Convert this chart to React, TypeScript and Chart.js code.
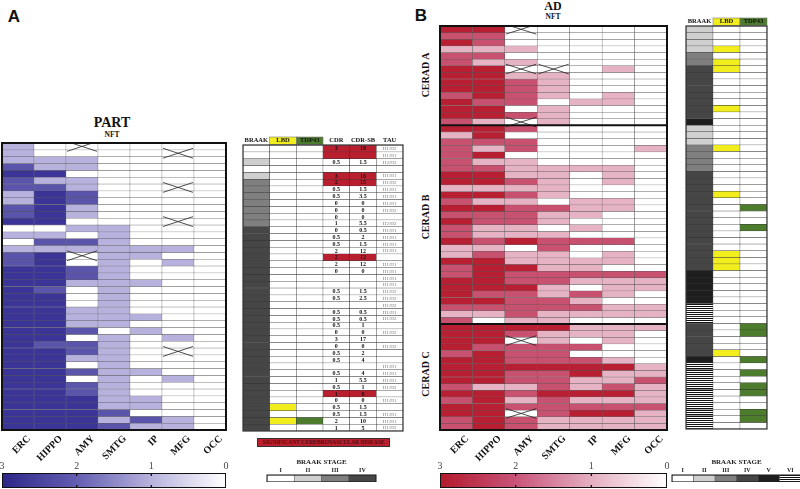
import React, { useEffect, useRef } from 'react';
import { Chart, registerables } from 'chart.js';

Chart.register(...registerables);

const SERIF = "'Liberation Serif', 'Times New Roman', serif";
const SANS = "'Liberation Sans', Arial, sans-serif";

// ---------------- DATA ----------------
const regions = ['ERC', 'HIPPO', 'AMY', 'SMTG', 'IP', 'MFG', 'OCC'];

// Panel A – PART, NFT score per case (rows top -> bottom); null = not assessed (X)
const partERC = [1,1,1,2,3,2,2,1,1,2, 2,3,0,1,0,1,2,2,3,3, 3,3,3,3,3,3,3,3,3,3, 3,3,3,3,3,3,3,3,3,3,3,3];
const partHIPPO = [0,0,1,1,3,1,2,3,3,3, 3,3,0,1,2,1,3,3,3,3, 3,2,3,3,3,3,3,3,3,2, 3,3,3,3,3,3,3,3,3,3,3,3];
const partAMY = [null,0,1,1,0,1,1,2,2,1, 1,0,1,0,2,1,null,0,2,2, 1,0,0,0,1,1,1,2,0,2, 2,1,0,2,0,2,2,3,3,3,3,3];
const partSMTG = [0,0,0,0,0,0,0,0,0,0, 0,0,1,1,1,1,1,1,1,1, 1,1,1,1,1,1,1,0,1,1, 1,1,1,1,1,1,1,1,1,2,1,2];
const partIP = [0,0,0,0,0,0,0,0,0,0, 0,0,0,0,0,1,1,0,0,0, 1,0,0,0,0,1,0,1,0,0, 0,0,0,1,0,0,0,1,1,0,2,1];
const partMFG = [0,null,0,0,0,0,null,0,0,0, 0,null,0,0,0,1,0,1,0,0, 0,0,0,0,0,0,0,0,1,0, null,0,0,0,1,0,0,0,0,0,1,1];
const partOCC = [0,0,0,0,0,0,0,0,0,0, 0,0,0,0,0,0,0,0,0,0, 0,0,0,0,0,0,0,0,0,0, 0,0,0,0,0,0,0,0,0,0,0,0];

// Panel A side table
const tableHeadA = ['BRAAK', 'LBD', 'TDP43', 'CDR', 'CDR-SB', 'TAU'];
const braakA = [1,1,2,1,2,3,3,3,3,3, 3,3,4,4,4,4,4,4,4,4, 4,4,4,4,4,4,4,4,4,4, 4,4,4,4,4,4,4,4,4,4,4,4];
const lbdRowsA = [38, 40];
const tdpRowsA = [40];
const cvdRowsA = [0, 1, 4, 5, 16, 36];
const cdrA = ['3','','0.5','','3','2','0.5','0.5','0','0','0','1','0','0.5','0.5','2','2','2','0','','','0.5','0.5','','0.5','0.5','0.5','0','3','0','0.5','0.5','','0.5','1','0.5','1','0','0.5','0.5','2','1'];
const cdrSbA = ['18','','1.5','','16','15','1.5','3.5','0','0','0','5.5','0.5','2','1.5','12','12','12','0','','','1.5','2.5','','0.5','0.5','1','0','17','0','2','4','','4','5.5','1','8','0','1.5','1.5','10','5'];
const tauA = ['H1/H2','H1/H1','H2/H2','','H1/H1','H1/H2','H1/H1','H1/H1','H1/H1','H1/H2','','H2/H2','H1/H1','H1/H1','H1/H1','H1/H1','','H1/H1','H1/H1','H1/H1','H1/H1','H1/H2','H1/H2','H1/H2','H1/H1','H1/H2','','H1/H2','','H1/H2','','','H1/H1','H1/H1','H1/H1','H1/H2','','H1/H1','','H1/H1','H1/H1','H1/H2'];

// Panel B – AD, NFT score per case; CERAD A (15 rows), B (30), C (16)
const ceradGroups = ['CERAD A', 'CERAD B', 'CERAD C'];
const ceradSizes = [15, 30, 16];
const adERC = [3,2,3,1,2,2,3,3,3,3,2,3,3,3,2,
  3,1,2,2,2,2,2,3,3,1,3,2,3,2,3,2,2,3,1,1,3,2,2,3,3,3,3,2,1,2,
  3,3,3,3,2,3,3,3,3,2,3,2,3,3,2,2];
const adHIPPO = [3,2,2,1,2,1,3,3,3,3,3,2,3,3,1,
  3,3,2,1,3,1,2,3,3,1,3,1,3,2,2,1,1,2,1,2,3,3,3,3,3,2,3,2,1,0,
  3,3,3,2,3,3,3,3,3,1,3,3,3,3,3,3];
const adAMY = [null,0,0,1,0,1,null,1,2,2,2,2,0,2,null,
  2,0,2,2,0,1,1,1,2,1,2,1,2,2,2,1,1,3,0,1,1,3,2,2,3,2,2,2,2,1,
  3,2,null,2,2,2,3,2,2,1,2,1,2,null,2,2];
const adSMTG = [0,0,0,0,0,0,null,1,1,1,1,0,1,1,1,
  0,0,0,0,0,0,1,1,1,1,1,0,2,1,1,0,1,2,2,1,1,1,2,2,1,1,2,2,1,1,
  3,1,1,2,2,2,3,2,2,2,3,2,2,2,1,1];
const adIP = [0,0,0,0,0,0,0,0,0,0,0,1,0,0,0,
  0,0,0,0,0,0,1,0,0,0,0,1,1,1,0,1,0,2,0,0,1,1,2,1,0,2,1,2,1,0,
  1,1,0,2,0,2,3,3,1,1,3,1,2,3,1,1];
const adMFG = [0,0,0,0,0,0,1,0,0,0,1,1,0,0,0,
  0,0,0,0,0,0,1,1,1,0,0,1,1,0,0,0,0,2,0,1,1,0,2,1,1,1,0,1,1,0,
  1,1,1,0,0,1,3,1,1,2,3,1,2,3,1,1];
const adOCC = [0,0,0,0,0,0,0,0,0,0,0,0,0,0,0,
  0,0,0,1,0,0,0,0,0,0,0,0,0,0,0,0,0,0,0,0,0,0,2,1,1,0,0,1,1,0,
  1,0,0,0,0,0,1,1,2,1,1,1,2,1,1,1];

// Panel B side table
const tableHeadB = ['BRAAK', 'LBD', 'TDP43'];
const braakB = [2,2,2,2,3,3,4,4,4,4,4,4,4,4,5,
  2,2,2,3,3,3,3,4,4,4,4,4,4,4,4,4,4,4,4,4,4,4,5,5,5,5,5,6,6,6,
  4,4,4,4,4,5,6,6,6,6,6,6,6,6,6,6];
const lbdRowsB = [3, 5, 6, 12, 18, 25, 34, 35, 36, 49];
const tdpRowsB = [27, 30, 45, 46, 50, 52, 54, 55, 58, 59];

// Legends
const colorbarTicks = [3, 2, 1, 0];
const braakStagesA = ['I', 'II', 'III', 'IV'];
const braakStagesB = ['I', 'II', 'III', 'IV', 'V', 'VI'];
const cvdLabel = 'SIGNIFICANT CEREBROVASCULAR DISEASE';

// ---------------- STYLES ----------------
const nftBlue = ['#ffffff', '#b6b2dd', '#5a55aa', '#3a3596'];
const nftRed = ['#ffffff', '#e6b3c4', '#c8516f', '#b91f33'];
const gradBlue = ['#2c2787', '#635eb2', '#b7b3dd', '#ffffff'];
const gradRed = ['#b3192c', '#c85479', '#e5afc1', '#ffffff'];
const braakShade = ['#ffffff', '#ffffff', '#cfcfcf', '#7f7f7f', '#464646', '#1e1e1e'];
const LBD_YELLOW = '#f2ee1e';
const TDP_GREEN = '#4c7c2c';
const CVD_RED = '#b91f2e';

function stripes(): any {
  const c = document.createElement('canvas');
  c.width = 4; c.height = 2;
  const g = c.getContext('2d')!;
  g.fillStyle = '#ffffff'; g.fillRect(0, 0, 4, 2);
  g.fillStyle = '#111111'; g.fillRect(0, 0, 4, 1);
  return g.createPattern(c, 'repeat');
}

function braakFill(stage: number, pat: any) {
  return stage === 6 ? pat : braakShade[stage];
}

const baseOpts = {
  animation: false,
  responsive: false,
  maintainAspectRatio: false,
  events: [],
};
const noPlugins = { legend: { display: false }, tooltip: { enabled: false }, title: { display: false } };
const noGrid = { display: false, drawTicks: false, tickLength: 0 };

// ---------------- CONFIG BUILDERS ----------------
function heatmapConfig(cols: any[][], palette: string[], padLeft: number, axisH: number, separators: number[]) {
  const nRows = cols[0].length;
  const datasets: any[] = [];
  for (let r = 0; r < nRows; r++) {
    datasets.push({
      data: cols.map(() => [r, r + 1]),
      backgroundColor: cols.map((c) => (c[r] == null ? '#ffffff' : palette[c[r]])),
      borderColor: 'rgba(60,60,60,0.7)',
      borderWidth: 0.5,
      borderSkipped: false,
      grouped: false,
      barPercentage: 1,
      categoryPercentage: 1,
    });
  }
  const decor = {
    id: 'heatDecor',
    afterDatasetsDraw(chart: any) {
      const { ctx, chartArea: a } = chart;
      const ys = chart.scales.y;
      ctx.save();
      ctx.strokeStyle = '#222';
      ctx.lineWidth = 0.8;
      cols.forEach((col, c) => col.forEach((v: any, r: number) => {
        if (v != null) return;
        const el = chart.getDatasetMeta(r).data[c];
        const p = el.getProps(['x', 'y', 'base', 'width'], true);
        const l = p.x - p.width / 2 + 1;
        const rr = p.x + p.width / 2 - 1;
        const t = Math.min(p.y, p.base) - 1.5;
        const b = Math.max(p.y, p.base) + 1.5;
        ctx.beginPath();
        ctx.moveTo(l, t); ctx.lineTo(rr, b);
        ctx.moveTo(l, b); ctx.lineTo(rr, t);
        ctx.stroke();
      }));
      ctx.strokeStyle = '#111';
      ctx.lineWidth = 2;
      separators.forEach((v) => {
        const y = ys.getPixelForValue(v);
        ctx.beginPath(); ctx.moveTo(a.left, y); ctx.lineTo(a.right, y); ctx.stroke();
      });
      ctx.strokeRect(a.left, a.top, a.right - a.left, a.bottom - a.top);
      ctx.restore();
    },
  };
  return {
    type: 'bar',
    data: { labels: regions, datasets },
    options: {
      ...baseOpts,
      layout: { padding: { left: padLeft, right: 2, top: 1, bottom: 0 } },
      plugins: noPlugins,
      scales: {
        x: {
          offset: true,
          grid: noGrid,
          border: { display: false },
          ticks: {
            autoSkip: false, minRotation: 45, maxRotation: 45, padding: 3, labelOffset: 11,
            color: '#111', font: { family: SERIF, size: 10, weight: 'bold' },
          },
          afterFit: (s: any) => { s.height = axisH; },
        },
        y: { type: 'linear', min: 0, max: nRows, reverse: true, display: false },
      },
    },
    plugins: [decor],
  };
}

function tableConfig(head: string[], colColors: any[][], headerBg: (string | null)[], texts: any[]) {
  const nRows = colColors[0].length;
  const datasets: any[] = [];
  for (let r = 0; r < nRows; r++) {
    datasets.push({
      data: head.map(() => [r, r + 1]),
      backgroundColor: head.map((_, c) => colColors[c][r]),
      borderColor: 'rgba(40,40,40,0.85)',
      borderWidth: 0.5,
      borderSkipped: false,
      grouped: false,
      barPercentage: 1,
      categoryPercentage: 1,
    });
  }
  const decor = {
    id: 'tableDecor',
    beforeDraw(chart: any) {
      const { ctx, chartArea: a } = chart;
      const xs = chart.scales.x;
      const w = (a.right - a.left) / head.length;
      ctx.save();
      headerBg.forEach((col, i) => {
        if (!col) return;
        const px = xs.getPixelForTick(i);
        ctx.fillStyle = col;
        ctx.fillRect(px - w / 2, a.top - 8, w, 7.5);
        ctx.strokeStyle = '#777';
        ctx.lineWidth = 0.6;
        ctx.strokeRect(px - w / 2, a.top - 8, w, 7.5);
      });
      ctx.restore();
    },
    afterDatasetsDraw(chart: any) {
      const { ctx, chartArea: a } = chart;
      ctx.save();
      ctx.textAlign = 'center';
      ctx.textBaseline = 'middle';
      texts.forEach((t) => t.values.forEach((v: string, r: number) => {
        if (!v) return;
        const el = chart.getDatasetMeta(r).data[t.col];
        const p = el.getProps(['x', 'y', 'base'], true);
        ctx.font = t.font;
        ctx.fillStyle = t.color;
        ctx.fillText(v, p.x, (p.y + p.base) / 2 + 0.5);
      }));
      ctx.strokeStyle = '#333';
      ctx.lineWidth = 1.2;
      ctx.strokeRect(a.left, a.top, a.right - a.left, a.bottom - a.top);
      ctx.restore();
    },
  };
  return {
    type: 'bar',
    data: { labels: head, datasets },
    options: {
      ...baseOpts,
      layout: { padding: { left: 10, right: 10, top: 0, bottom: 1 } },
      plugins: noPlugins,
      scales: {
        x: {
          position: 'top',
          offset: true,
          grid: noGrid,
          border: { display: false },
          ticks: {
            autoSkip: false, minRotation: 0, maxRotation: 0, padding: 1,
            color: '#111', font: { family: SERIF, size: 6.5, weight: 'bold' },
          },
          afterFit: (s: any) => { s.height = 12; },
        },
        y: { type: 'linear', min: 0, max: nRows, reverse: true, display: false },
      },
    },
    plugins: [decor],
  };
}

function colorbarConfig(stops: string[]) {
  const inner = colorbarTicks.slice(1, -1);
  const marks = {
    id: 'cbMarks',
    afterDatasetsDraw(chart: any) {
      const { ctx, chartArea: a } = chart;
      const xs = chart.scales.x;
      ctx.save();
      ctx.strokeStyle = '#111';
      ctx.lineWidth = 1.3;
      inner.forEach((v) => {
        const px = xs.getPixelForValue(v);
        ctx.beginPath();
        ctx.moveTo(px, a.top); ctx.lineTo(px, a.top + 3);
        ctx.moveTo(px, a.bottom); ctx.lineTo(px, a.bottom - 3);
        ctx.stroke();
      });
      ctx.restore();
    },
  };
  return {
    type: 'bar',
    data: {
      labels: ['NFT'],
      datasets: [{
        data: [[Math.min(...colorbarTicks), Math.max(...colorbarTicks)]],
        backgroundColor: (ctx: any) => {
          const ch = ctx.chart;
          const a = ch.chartArea;
          if (!a) return stops[0];
          const g = ch.ctx.createLinearGradient(a.left, 0, a.right, 0);
          stops.forEach((s, i) => g.addColorStop(i / (stops.length - 1), s));
          return g;
        },
        borderColor: '#111',
        borderWidth: 1.3,
        borderSkipped: false,
        barPercentage: 1,
        categoryPercentage: 1,
      }],
    },
    options: {
      ...baseOpts,
      indexAxis: 'y',
      layout: { padding: { left: 12, right: 12, top: 0, bottom: 1 } },
      plugins: noPlugins,
      scales: {
        x: {
          type: 'linear',
          position: 'top',
          min: Math.min(...colorbarTicks),
          max: Math.max(...colorbarTicks),
          reverse: true,
          grid: noGrid,
          border: { display: false },
          afterBuildTicks: (s: any) => { s.ticks = [...colorbarTicks].sort((p, q) => p - q).map((v) => ({ value: v })); },
          ticks: { padding: 1, color: '#444', font: { family: SERIF, size: 10 } },
          afterFit: (s: any) => { s.height = 15; },
        },
        y: { display: false },
      },
    },
    plugins: [marks],
  };
}

function braakLegendConfig(stages: string[], pat: any) {
  const outline = {
    id: 'outline',
    afterDatasetsDraw(chart: any) {
      const { ctx, chartArea: a } = chart;
      ctx.save();
      ctx.strokeStyle = '#111';
      ctx.lineWidth = 1;
      ctx.strokeRect(a.left, a.top, a.right - a.left, a.bottom - a.top);
      ctx.restore();
    },
  };
  return {
    type: 'bar',
    data: {
      labels: stages,
      datasets: [{
        data: stages.map(() => [0, 1]),
        backgroundColor: stages.map((_, i) => braakFill(i + 1, pat)),
        borderColor: 'rgba(60,60,60,0.8)',
        borderWidth: 0.6,
        borderSkipped: false,
        barPercentage: 1,
        categoryPercentage: 1,
      }],
    },
    options: {
      ...baseOpts,
      layout: { padding: { left: 10, right: 10, top: 0, bottom: 0 } },
      plugins: {
        legend: { display: false },
        tooltip: { enabled: false },
        title: {
          display: true, text: 'BRAAK STAGE', color: '#222',
          font: { family: SERIF, size: 7, weight: 'bold', lineHeight: 1 },
          padding: { top: 0, bottom: 1 },
        },
      },
      scales: {
        x: {
          position: 'top',
          offset: true,
          grid: noGrid,
          border: { display: false },
          ticks: { autoSkip: false, maxRotation: 0, padding: 1, color: '#222', font: { family: SERIF, size: 6, weight: 'bold' } },
          afterFit: (s: any) => { s.height = 8; },
        },
        y: { type: 'linear', min: 0, max: 1, display: false },
      },
    },
    plugins: [outline],
  };
}

// ---------------- COMPONENTS ----------------
function ChartBox({ left, top, width, height, make }: any) {
  const ref = useRef<HTMLCanvasElement>(null);
  useEffect(() => {
    const chart = new Chart(ref.current as any, make());
    return () => chart.destroy();
  }, []);
  return (
    <div style={{ position: 'absolute', left, top, width, height }}>
      <canvas ref={ref} width={width} height={height} style={{ width, height, display: 'block' }} />
    </div>
  );
}

function Txt({ x, y, size, children, family = SERIF, weight = 'bold', rotate = 0, color = '#111' }: any) {
  return (
    <div style={{
      position: 'absolute', left: x, top: y, transform: `translate(-50%,-50%) rotate(${rotate}deg)`,
      fontSize: size, fontWeight: weight, fontFamily: family, color, lineHeight: 1, whiteSpace: 'nowrap',
    }}>{children}</div>
  );
}

const rowsToFlags = (rows: number[], n: number) => Array.from({ length: n }, (_, i) => rows.includes(i));

export default function App() {
  const partCols = [partERC, partHIPPO, partAMY, partSMTG, partIP, partMFG, partOCC];
  const adCols = [adERC, adHIPPO, adAMY, adSMTG, adIP, adMFG, adOCC];
  const sepB = [ceradSizes[0], ceradSizes[0] + ceradSizes[1]];

  const makeTableA = () => {
    const pat = stripes();
    const n = braakA.length;
    const lbd = rowsToFlags(lbdRowsA, n);
    const tdp = rowsToFlags(tdpRowsA, n);
    const cvd = rowsToFlags(cvdRowsA, n);
    const colColors = [
      braakA.map((s) => braakFill(s, pat)),
      lbd.map((f) => (f ? LBD_YELLOW : '#ffffff')),
      tdp.map((f) => (f ? TDP_GREEN : '#ffffff')),
      cvd.map((f) => (f ? CVD_RED : '#ffffff')),
      cvd.map((f) => (f ? CVD_RED : '#ffffff')),
      tauA.map(() => '#ffffff'),
    ];
    const texts = [
      { col: 3, values: cdrA, font: `bold 6px ${SERIF}`, color: '#151515' },
      { col: 4, values: cdrSbA, font: `bold 6px ${SERIF}`, color: '#151515' },
      { col: 5, values: tauA, font: `5px ${SERIF}`, color: '#777' },
    ];
    return tableConfig(tableHeadA, colColors, [null, LBD_YELLOW, TDP_GREEN, null, null, null], texts);
  };

  const makeTableB = () => {
    const pat = stripes();
    const n = braakB.length;
    const lbd = rowsToFlags(lbdRowsB, n);
    const tdp = rowsToFlags(tdpRowsB, n);
    const colColors = [
      braakB.map((s) => braakFill(s, pat)),
      lbd.map((f) => (f ? LBD_YELLOW : '#ffffff')),
      tdp.map((f) => (f ? TDP_GREEN : '#ffffff')),
    ];
    return tableConfig(tableHeadB, colColors, [null, LBD_YELLOW, TDP_GREEN], []);
  };

  const ceradCenters = [75, 217, 374];

  return (
    <div style={{ position: 'absolute', left: 0, top: 0, width: 800, height: 489, background: '#fff', overflow: 'hidden' }}>
      <Txt x={14} y={16} size={17} family={SANS}>A</Txt>
      <Txt x={421} y={15} size={17} family={SANS}>B</Txt>
      <Txt x={112} y={123} size={14}>PART</Txt>
      <Txt x={112} y={135} size={7.5}>NFT</Txt>
      <Txt x={553} y={6} size={12}>AD</Txt>
      <Txt x={553} y={17} size={7.5}>NFT</Txt>
      {ceradGroups.map((g, i) => (
        <Txt key={g} x={426} y={ceradCenters[i]} size={10} rotate={-90}>{g}</Txt>
      ))}

      <ChartBox left={-10} top={142} width={238} height={321}
        make={() => heatmapConfig(partCols, nftBlue, 12, 33, [])} />
      <ChartBox left={430} top={25} width={239} height={438}
        make={() => heatmapConfig(adCols, nftRed, 10, 33, sepB)} />

      <ChartBox left={233} top={133} width={180} height={299} make={makeTableA} />
      <ChartBox left={676} top={14} width={101} height={416} make={makeTableB} />

      <ChartBox left={-10} top={458} width={248} height={31} make={() => colorbarConfig(gradBlue)} />
      <ChartBox left={428} top={458} width={251} height={31} make={() => colorbarConfig(gradRed)} />

      <ChartBox left={257} top={459} width={129} height={23} make={() => braakLegendConfig(braakStagesA, stripes())} />
      <ChartBox left={662} top={459} width={149} height={23} make={() => braakLegendConfig(braakStagesB, stripes())} />

      <div style={{
        position: 'absolute', left: 257, top: 438, width: 133, height: 9, boxSizing: 'border-box',
        background: CVD_RED, border: '1px solid #333', display: 'flex', alignItems: 'center', justifyContent: 'center',
        fontFamily: SERIF, fontWeight: 'bold', fontSize: 5.6, color: '#5e0b0b', whiteSpace: 'nowrap', lineHeight: 1,
      }}>{cvdLabel}</div>
    </div>
  );
}
